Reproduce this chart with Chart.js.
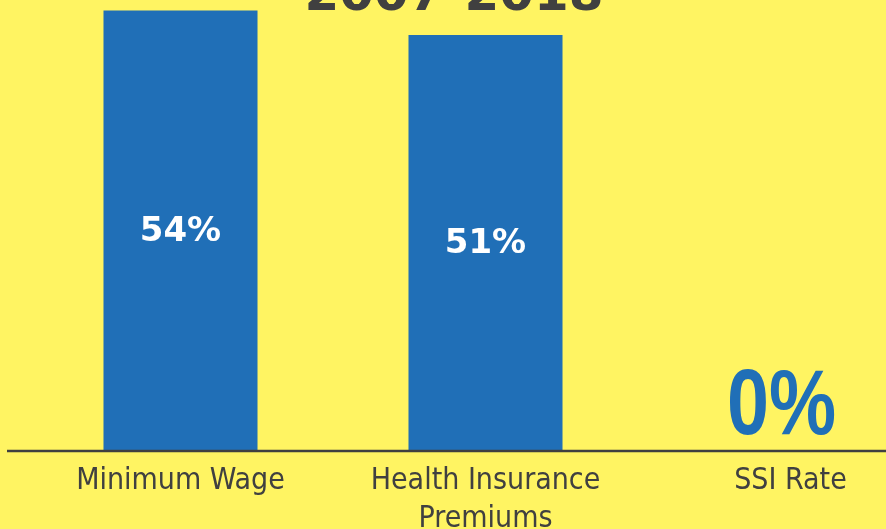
<!DOCTYPE html>
<html>
<head>
<meta charset="utf-8">
<script src="https://cdn.jsdelivr.net/npm/chart.js@4/dist/chart.umd.min.js"></script>
<style>
  html, body { margin: 0; padding: 0; background: #FFF462; overflow: hidden; width: 886px; height: 529px; }
  canvas { display: block; }
</style>
</head>
<body>
<canvas id="c" width="943" height="529"></canvas>
<script>
// ── data ──
const categories = ['Minimum Wage', ['Health Insurance', 'Premiums'], 'SSI Rate'];
const increases = [54, 51, 0];
const titleText = '2007-2018';

const GRAY = '#404040';
const BLUE = '#206FB7';

// value labels: white inside bars, big blue above an empty bar
const valueLabels = {
  id: 'valueLabels',
  afterDatasetsDraw(chart) {
    const ctx = chart.ctx;
    const meta = chart.getDatasetMeta(0);
    meta.data.forEach((bar, i) => {
      const v = increases[i];
      ctx.save();
      ctx.textAlign = 'center';
      if (v > 0) {
        ctx.fillStyle = '#ffffff';
        ctx.font = 'bold 34px "DejaVu Sans"';
        ctx.textBaseline = 'middle';
        ctx.fillText(v + '%', bar.x, (bar.y + bar.base) / 2 + 2);
      } else {
        ctx.fillStyle = BLUE;
        ctx.font = 'bold 92px "Liberation Sans"';
        ctx.textBaseline = 'alphabetic';
        ctx.translate(bar.x - 9, bar.base - 16);
        ctx.scale(0.82, 1);
        ctx.fillText(v + '%', 0, 0);
      }
      ctx.restore();
    });
  }
};

// title (cropped at the top) and baseline rule
const decor = {
  id: 'decor',
  afterDraw(chart) {
    const ctx = chart.ctx;
    const y0 = chart.scales.y.getPixelForValue(0);
    ctx.save();
    ctx.strokeStyle = GRAY;
    ctx.lineWidth = 2.5;
    ctx.beginPath();
    ctx.moveTo(7, y0 + 1);
    ctx.lineTo(chart.width, y0 + 1);
    ctx.stroke();
    ctx.fillStyle = GRAY;
    ctx.font = 'bold 50px "DejaVu Sans"';
    ctx.textAlign = 'center';
    ctx.textBaseline = 'alphabetic';
    ctx.fillText(titleText, 454, 10);
    ctx.restore();
  }
};

new Chart(document.getElementById('c').getContext('2d'), {
  type: 'bar',
  data: {
    labels: categories,
    datasets: [{ data: increases, backgroundColor: BLUE, borderWidth: 0, categoryPercentage: 0.505, barPercentage: 1 }]
  },
  options: {
    responsive: false,
    animation: false,
    layout: { padding: { left: 28, right: 0, top: 0, bottom: 0 } },
    plugins: { legend: { display: false }, tooltip: { enabled: false }, title: { display: false } },
    scales: {
      x: {
        grid: { display: false, drawTicks: false },
        border: { display: false },
        ticks: { color: GRAY, font: { family: '"DejaVu Sans Condensed", sans-serif', size: 30, lineHeight: 1.27 }, padding: 12, maxRotation: 0, autoSkip: false },
        afterFit(scale) { scale.height = 79; }
      },
      y: { display: false, min: 0, max: 55.3 }
    }
  },
  plugins: [valueLabels, decor]
});
</script>
</body>
</html>
